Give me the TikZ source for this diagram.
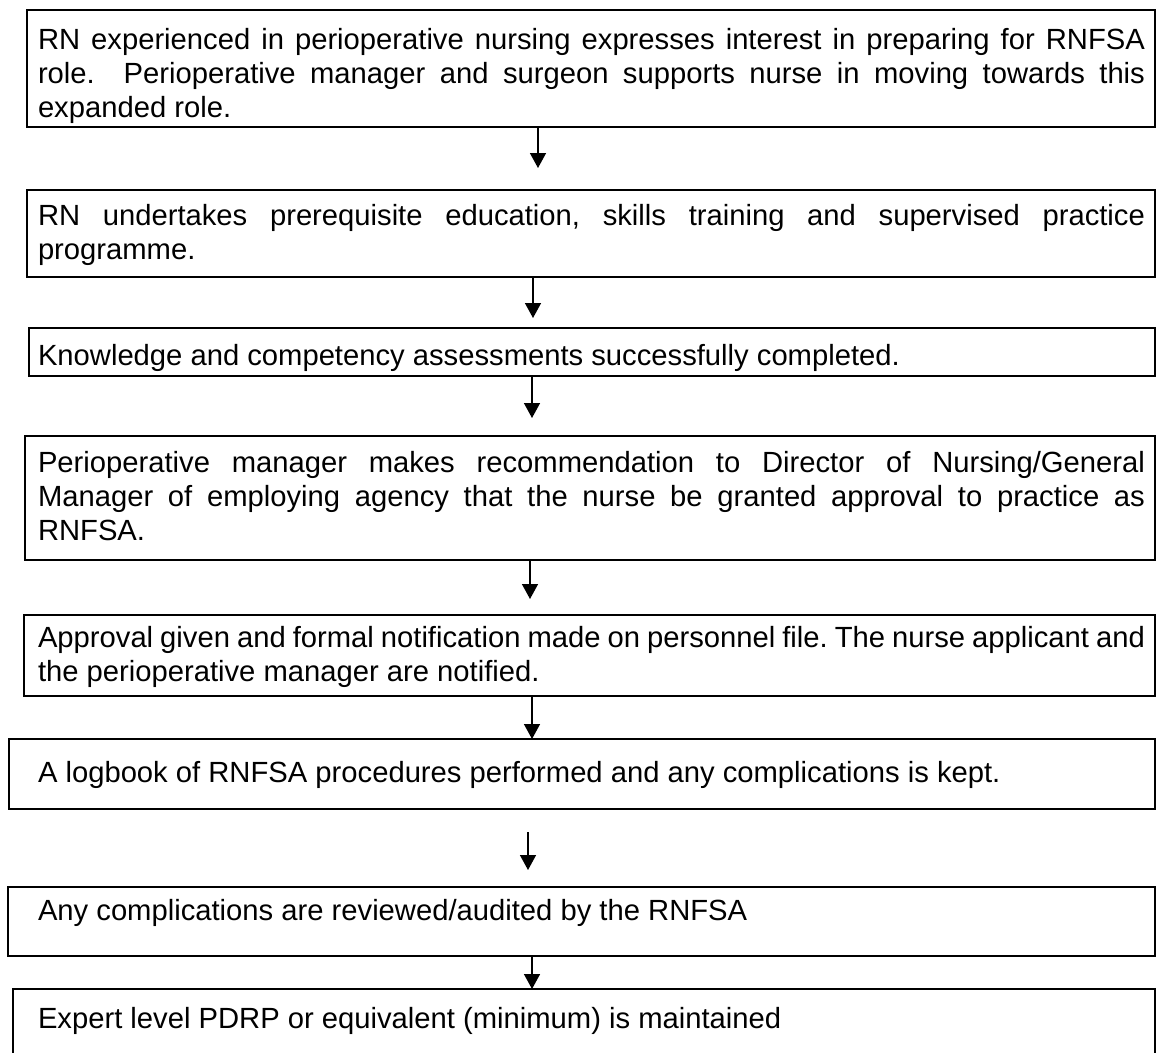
\documentclass[tikz,border=0pt]{standalone}
\usepackage{fontspec}
\setmainfont{Liberation Sans}
\usetikzlibrary{arrows.meta}
\newcommand\firstline{\leavevmode\vrule width 0pt height 24pt depth 0pt\relax}
\hyphenpenalty=10000
\exhyphenpenalty=10000
\begin{document}
\frenchspacing
\begin{tikzpicture}[x=1pt,y=-1pt,
  box/.style={draw=black,line width=1.5pt,inner sep=0pt,outer sep=0pt,anchor=north west},
  txt/.style={inner sep=0pt,outer sep=0pt,anchor=north west,text width=1107pt,align=justify,
    font=\fontsize{29.2}{34}\selectfont},
  arr/.style={line width=1.5pt,-{Triangle[width=16pt,length=15pt]}}]
\useasboundingbox (0,0) rectangle (1156,1052);
% boxes
\node[box,minimum width=1128pt,minimum height=117pt] (b1) at (27,10) {};
\node[box,minimum width=1128pt,minimum height=87pt] (b2) at (27,190) {};
\node[box,minimum width=1126pt,minimum height=48pt] (b3) at (29,328) {};
\node[box,minimum width=1130pt,minimum height=124pt] (b4) at (25,436) {};
\node[box,minimum width=1131pt,minimum height=81pt] (b5) at (24,615) {};
\node[box,minimum width=1146pt,minimum height=70pt] (b6) at (9,739) {};
\node[box,minimum width=1147pt,minimum height=69pt] (b7) at (8,887) {};
\node[box,minimum width=1142pt,minimum height=66pt] (b8) at (13,989) {};
% texts
\node[txt] (t1) at (38,25) {\firstline RN experienced in perioperative nursing expresses interest in preparing for RNFSA\linebreak role.\ \ Perioperative manager and surgeon supports nurse in moving towards this\linebreak expanded role.};
\node[txt] (t2) at (38,201) {\firstline RN undertakes prerequisite education, skills training and supervised practice\linebreak programme.};
\node[txt] (t3) at (38,341) {\firstline Knowledge and competency assessments successfully completed.};
\node[txt] (t4) at (38,448) {\firstline Perioperative manager makes recommendation to Director of Nursing/General\linebreak Manager of employing agency that the nurse be granted approval to practice as\linebreak RNFSA.};
\node[txt] (t5) at (38,623) {\firstline Approval given and formal notification made on personnel file. The nurse applicant and\linebreak the perioperative manager are notified.};
\node[txt] (t6) at (38,758) {\firstline A logbook of RNFSA procedures performed and any complications is kept.};
\node[txt] (t7) at (38,896) {\firstline Any complications are reviewed/audited by the RNFSA};
\node[txt] (t8) at (38,1004) {\firstline Expert level PDRP or equivalent (minimum) is maintained};
% arrows
\coordinate (e1) at (538,168);
\coordinate (e2) at (533,318);
\coordinate (e3) at (532,418);
\coordinate (e4) at (530,599);
\coordinate (x5) at (532,700);
\coordinate (s6) at (528,832);
\coordinate (e6) at (528,870);
\coordinate (x7) at (532,960);
\draw[arr] (b1.south -| e1) -- (e1);
\draw[arr] (b2.south -| e2) -- (e2);
\draw[arr] (b3.south -| e3) -- (e3);
\draw[arr] (b4.south -| e4) -- (e4);
\draw[arr] (b5.south -| x5) -- (b6.north -| x5);
\draw[arr] (s6) -- (e6);
\draw[arr] (b7.south -| x7) -- (b8.north -| x7);
\end{tikzpicture}
\end{document}
